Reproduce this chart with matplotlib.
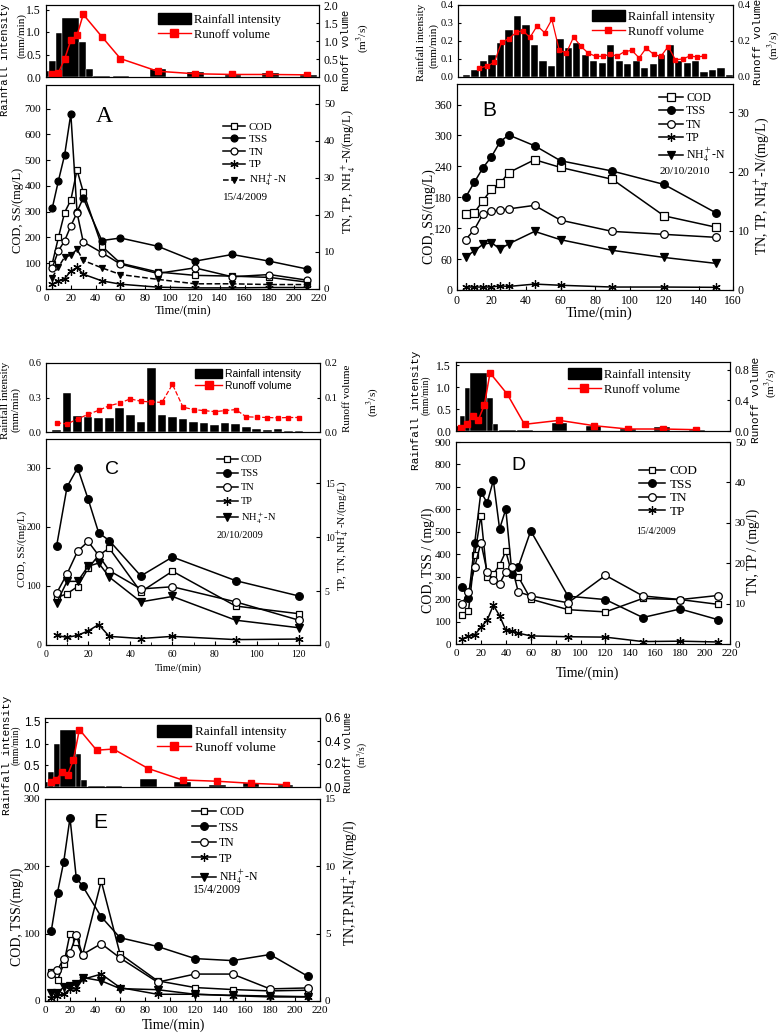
import numpy as np
import matplotlib.pyplot as plt
from matplotlib.lines import Line2D
from matplotlib.patches import Patch
from matplotlib.ticker import FormatStrFormatter, MultipleLocator

plt.rcParams['font.family'] = ['Liberation Serif', 'DejaVu Serif']
plt.rcParams['mathtext.fontset'] = 'stix'
plt.rcParams['font.size'] = 8
plt.rcParams['xtick.direction'] = 'in'
plt.rcParams['ytick.direction'] = 'in'
plt.rcParams['axes.linewidth'] = 0.8
plt.rcParams['xtick.major.size'] = 3
plt.rcParams['ytick.major.size'] = 3

# ---------------- data ----------------
# A : 15/4/2009
a_rain_l = [0, 2.7, 8, 12.9, 26.8, 32.2, 37.6, 53.7, 83.7, 113.8, 144, 174, 204.5]
a_rain_r = [2.7, 8, 12.9, 26.8, 32.2, 37.6, 51.5, 67, 97, 127, 157.5, 187.5, 218]
a_rain = [0.13, 0.35, 0.98, 1.32, 0.77, 0.18, 0.03, 0.03, 0.18, 0.12, 0.05, 0.1, 0.05]
a_run_t = [5, 10, 15, 20, 25, 30, 45, 60, 90, 120, 150, 180, 210]
a_run = [0.09, 0.12, 0.5, 1.02, 1.16, 1.74, 1.12, 0.51, 0.16, 0.09, 0.07, 0.07, 0.06]
a_t = [5, 10, 15, 20, 25, 30, 45, 60, 90, 120, 150, 180, 210]
a_cod = [98, 200, 297, 345, 462, 377, 166, 100, 66, 53, 50, 45, 27]
a_tss = [313, 420, 520, 680, 300, 353, 188, 198, 166, 108, 134, 108, 78]
a_tn = [5.7, 10.3, 13.0, 17.0, 20.6, 12.7, 9.8, 6.7, 4.2, 5.7, 3.3, 3.9, 2.4]
a_tp = [1.3, 2.2, 2.8, 4.8, 5.8, 4.0, 2.2, 1.3, 0.5, 0.3, 0.3, 0.4, 0.4]
a_nh4 = [3.1, 5.9, 8.6, 9.1, 10.7, 7.7, 5.7, 3.9, 2.6, 1.4, 1.4, 1.2, 1.2]

# B : 20/10/2010
b_rain_t = [5, 10, 15, 20, 25, 30, 35, 40, 45, 50, 55, 60, 65, 70, 75, 80,
            85, 90, 95, 100, 105, 110, 115, 120, 125, 130, 135, 140, 145, 150, 155, 160]
b_rain = [0.01, 0.04, 0.09, 0.12, 0.19, 0.26, 0.34, 0.29, 0.18, 0.09, 0.06, 0.21,
          0.16, 0.19, 0.12, 0.09, 0.08, 0.18, 0.09, 0.07, 0.09, 0.05, 0.07, 0.12,
          0.18, 0.09, 0.08, 0.09, 0.03, 0.04, 0.05, 0.01]
b_run_t = [12.1, 17.1, 21.4, 25.7, 30.0, 34.3, 38.2, 42.4, 46.7, 51.0, 55.3, 59.6,
           63.8, 68.1, 72.4, 76.7, 81.0, 85.3, 89.5, 93.8, 98.1, 102.4, 106.7, 110.9,
           115.2, 119.5, 123.8, 128.1, 132.4, 136.6, 140.9, 145.2]
b_run = [0.048, 0.061, 0.081, 0.194, 0.213, 0.248, 0.257, 0.22, 0.285, 0.246, 0.32,
         0.15, 0.133, 0.222, 0.17, 0.133, 0.115, 0.115, 0.126, 0.117, 0.141, 0.148,
         0.106, 0.161, 0.126, 0.115, 0.169, 0.096, 0.1, 0.117, 0.111, 0.117]
b_t = [5, 10, 15, 20, 25, 30, 45, 60, 90, 120, 150]
b_cod = [147, 150, 173, 196, 207, 228, 253, 238, 215, 144, 122]
b_tss = [180, 209, 237, 259, 288, 301, 280, 251, 231, 205, 150]
b_tn = [8.5, 10.2, 12.8, 13.3, 13.5, 13.7, 14.3, 11.8, 9.9, 9.4, 8.9]
b_tp = [0.5, 0.5, 0.5, 0.5, 0.7, 0.6, 1.0, 0.8, 0.5, 0.5, 0.45]
b_nh4 = [5.6, 6.6, 7.7, 8.0, 6.9, 7.8, 9.9, 8.5, 6.7, 5.5, 4.5]

# C : 20/10/2009
c_rain_t = [5, 10, 15, 20, 25, 30, 35, 40, 45, 50, 55, 60,
            65, 70, 75, 80, 85, 90, 95, 100, 105, 110, 115, 120]
c_rain = [0.02, 0.34, 0.14, 0.13, 0.12, 0.12, 0.21, 0.15, 0.09, 0.56, 0.15, 0.13,
          0.11, 0.09, 0.08, 0.06, 0.08, 0.07, 0.04, 0.03, 0.02, 0.03, 0.01, 0.01]
c_run_t = c_rain_t
c_run = [0.027, 0.023, 0.038, 0.051, 0.063, 0.076, 0.084, 0.096, 0.089, 0.087, 0.086, 0.138,
         0.072, 0.065, 0.062, 0.059, 0.062, 0.065, 0.044, 0.043, 0.042, 0.041, 0.042, 0.042]
c_t = [5, 10, 15, 20, 25, 30, 45, 60, 90, 120]
c_cod = [80, 87, 99, 130, 152, 164, 90, 125, 66, 53]
c_tss = [167, 268, 300, 247, 190, 177, 117, 149, 109, 83]
c_tn = [4.8, 6.6, 8.7, 9.6, 8.3, 6.9, 5.2, 5.4, 4.0, 2.3]
c_tp = [0.9, 0.7, 0.9, 1.3, 1.9, 0.8, 0.6, 0.8, 0.5, 0.55]
c_nh4 = [3.9, 5.9, 5.9, 7.3, 7.6, 6.3, 4.0, 4.5, 2.3, 1.6]

# D : 15/4/2009
d_rain_l = [0, 3.2, 7.2, 11.2, 24.6, 29.4, 34.8, 48.7, 76.8, 104, 131.7, 159.3, 187]
d_rain_r = [3.2, 7.2, 11.2, 24.6, 29.4, 34, 48.2, 61.6, 88.9, 116.4, 144.3, 171.8, 200]
d_rain = [0.12, 0.33, 0.98, 1.32, 0.76, 0.17, 0.03, 0.03, 0.18, 0.12, 0.05, 0.09, 0.03]
d_run_t = [4, 9, 13.4, 18, 22.8, 27.3, 41.2, 55, 83, 111, 138, 166, 193]
d_run = [0.043, 0.087, 0.195, 0.147, 0.342, 0.758, 0.48, 0.087, 0.139, 0.069, 0.026, 0.026, 0.017]
d_t = [5, 10, 15, 20, 25, 30, 35, 40, 45, 50, 60, 90, 120, 150, 180, 210]
d_cod = [131, 145, 396, 572, 297, 311, 352, 413, 310, 300, 200, 153, 143, 203, 198, 177]
d_tss = [252, 203, 449, 678, 629, 729, 513, 601, 311, 344, 504, 213, 198, 118, 156, 109]
d_tn = [10.0, 12.9, 19.0, 25.1, 17.9, 15.9, 14.9, 17.9, 19.0, 12.9, 11.9, 10.2, 17.0, 11.9, 11.0, 12.0]
d_tp = [1.3, 1.9, 2.3, 4.1, 5.9, 9.6, 7.0, 3.4, 3.1, 2.7, 2.0, 1.8, 1.7, 0.6, 0.7, 0.5]

# E : 15/4/2009
e_rain_l = [0, 2.7, 7.2, 12, 24.8, 28.8, 34.7, 48.8, 76, 103.2, 131.2, 158.7, 186.1]
e_rain_r = [2.7, 7.2, 12, 24.8, 28.8, 33.9, 48, 61.3, 89.3, 116.5, 144.5, 171.5, 198.7]
e_rain = [0.12, 0.35, 0.98, 1.32, 0.76, 0.17, 0.03, 0.03, 0.18, 0.12, 0.05, 0.1, 0.04]
e_run_t = [4.5, 8.8, 13.6, 18.1, 22.7, 27.5, 41.3, 54.7, 82.7, 110, 137.9, 165, 192.5]
e_run = [0.043, 0.061, 0.128, 0.104, 0.235, 0.5, 0.32, 0.33, 0.16, 0.061, 0.05, 0.032, 0.02]
e_t = [5, 10, 15, 20, 25, 30, 45, 60, 90, 120, 150, 180, 210]
e_cod = [43, 31, 55, 100, 88, 68, 178, 70, 30, 20, 17, 15, 16]
e_tss = [104, 161, 207, 272, 183, 171, 125, 94, 81, 63, 60, 69, 37]
e_tn = [2.0, 2.3, 3.15, 3.57, 4.9, 3.45, 4.26, 3.2, 1.4, 2.0, 2.0, 0.9, 0.97]
e_tp = [0.25, 0.4, 0.5, 0.9, 0.9, 1.6, 2.0, 1.0, 0.5, 0.5, 0.4, 0.3, 0.3]
e_nh4 = [0.6, 0.6, 1.04, 1.1, 1.24, 1.74, 1.5, 0.92, 0.84, 0.5, 0.42, 0.37, 0.32]

# ---------------- helpers ----------------
W, H = 781, 1033
fig = plt.figure(figsize=(W / 100, H / 100), dpi=100)


def box(l, t, r, b):
    return fig.add_axes([l / W, 1 - b / H, (r - l) / W, (b - t) / H])


def ftext(x, y, s, **kw):
    fig.text(x / W, 1 - y / H, s, **kw)


STY = {
    'COD': dict(marker='s', mfc='white', label='COD'),
    'TSS': dict(marker='o', mfc='black', label='TSS'),
    'TN': dict(marker='o', mfc='white', label='TN'),
    'TP': dict(marker=(6, 2, 0), mfc='black', label='TP'),
    'NH4': dict(marker='v', mfc='black', label='NH$_4^+$-N'),
}


def top_axes(l, t, r, b, xlim, ylim, yticks, ylim2, yticks2, fs=8, family=None):
    ax = box(l, t, r, b)
    ax.set_xlim(xlim)
    ax.set_ylim(ylim)
    ax.set_yticks(yticks)
    ax.yaxis.set_major_formatter(FormatStrFormatter('%.1f'))
    ax.tick_params(labelbottom=False, labelsize=fs, length=2.5)
    ax.set_xticks([])
    axr = ax.twinx()
    axr.set_ylim(ylim2)
    axr.set_yticks(yticks2)
    axr.yaxis.set_major_formatter(FormatStrFormatter('%.1f'))
    axr.tick_params(labelsize=fs, length=2.5)
    if family:
        for lab in ax.get_yticklabels() + axr.get_yticklabels():
            lab.set_family(family)
    return ax, axr


def top_legend(axr, x, y, fs=8.5, family=None, ms=6):
    hs = [Patch(facecolor='black', edgecolor='black'),
          Line2D([], [], color='red', marker='s', ms=ms, lw=1)]
    prop = {'size': fs}
    if family:
        prop['family'] = family
    axr.legend(hs, ['Rainfall intensity', 'Runoff volume'], loc='upper left',
               bbox_to_anchor=(x / W, 1 - y / H), bbox_transform=fig.transFigure,
               frameon=False, borderpad=0, borderaxespad=0, handlelength=2.6,
               handleheight=1.0, handletextpad=0.3, labelspacing=0.15, prop=prop)


def main_axes(l, t, r, b, xlim, xticks, ylim, yticks, ylim2, yticks2, fs=8):
    ax = box(l, t, r, b)
    ax.set_xlim(xlim)
    ax.set_xticks(xticks)
    ax.set_ylim(ylim)
    ax.set_yticks(yticks)
    ax.tick_params(labelsize=fs)
    axr = ax.twinx()
    axr.set_ylim(ylim2)
    axr.set_yticks(yticks2)
    axr.tick_params(labelsize=fs)
    return ax, axr


def series(ax, t, y, key, ms=5, ls='-', lw=1.1):
    s = STY[key]
    ln, = ax.plot(t, y, color='black', lw=lw, ls=ls, marker=s['marker'], ms=ms,
                  mfc=s['mfc'], mec='black', mew=0.9, label=s['label'], zorder=3)
    return ln


def main_legend(axr, handles, x, y, fs=8, hl=2.0, sp=0.2):
    axr.legend(handles, [h.get_label() for h in handles], loc='upper left',
               bbox_to_anchor=(x / W, 1 - y / H), bbox_transform=fig.transFigure,
               frameon=False, borderpad=0, borderaxespad=0, handlelength=hl,
               handletextpad=0.3, labelspacing=sp, fontsize=fs)


# ---------------- Panel A ----------------
ax, axr = top_axes(46, 5, 319, 77, (0, 220), (0, 1.6), [0, 0.5, 1.0, 1.5],
                   (0, 2.0), [0, 0.5, 1.0, 1.5, 2.0], fs=8.5)
ax.bar(a_rain_l, a_rain, width=np.subtract(a_rain_r, a_rain_l), align='edge',
       color='black', edgecolor='white', lw=0.3)
axr.plot(a_run_t, a_run, color='red', marker='s', ms=5, lw=1.1)
top_legend(axr, 158, 13, fs=9)
ftext(5, 60, 'Rainfall intensity', rotation=90, ha='center', va='center',
      family='Liberation Mono', size=7.6)
ftext(22, 36, '(mm/min)', rotation=90, ha='center', va='center', size=8)
ftext(346, 50, 'Runoff volume', rotation=90, ha='center', va='center',
      family='Liberation Mono', size=7.6)
ftext(363, 38, '(m$^3$/s)', rotation=90, ha='center', va='center', size=8)

ax, axr = main_axes(46, 85, 319, 289, (0, 220), range(0, 221, 20), (0, 792),
                    range(0, 701, 100), (0, 55), range(0, 51, 10))
hs = [series(ax, a_t, a_cod, 'COD'), series(ax, a_t, a_tss, 'TSS'),
      series(axr, a_t, a_tn, 'TN'), series(axr, a_t, a_tp, 'TP', ms=6),
      series(axr, a_t, a_nh4, 'NH4', ls='--')]
main_legend(axr, hs, 223, 122, fs=8, sp=0.25)
ftext(223, 198, '15/4/2009', size=8, va='center')
ftext(104, 117, 'A', size=17, ha='center', va='center')
ftext(18, 210, 'COD, SS/(mg/L)', rotation=90, ha='center', va='center', size=9)
ftext(349, 172, 'TN, TP, NH$_4^+$-N/(mg/L)', rotation=90, ha='center', va='center', size=9)
ftext(183, 311, 'Time/(min)', ha='center', va='center', size=9)

# ---------------- Panel B ----------------
ax, axr = top_axes(458, 5, 733, 77, (0, 162), (0, 0.4), [0, 0.1, 0.2, 0.3, 0.4],
                   (0, 0.4), [0, 0.2, 0.4], fs=7.5)
ax.bar(b_rain_t, b_rain, width=4.3, color='black', edgecolor='white', lw=0.3)
axr.plot(b_run_t, b_run, color='red', marker='s', ms=3.5, lw=0.9)
top_legend(axr, 592, 10, fs=9, ms=5)
ftext(421, 42, 'Rainfall intensity', rotation=90, ha='center', va='center', size=8)
ftext(434, 45, '(mm/min)', rotation=90, ha='center', va='center', size=8)
ftext(758, 42, 'Runoff volume', rotation=90, ha='center', va='center',
      family='Liberation Mono', size=8)
ftext(774, 45, '(m$^3$/s)', rotation=90, ha='center', va='center', size=8)

ax, axr = main_axes(457, 84, 733, 290, (0, 160), range(0, 161, 20), (0, 400),
                    range(0, 361, 60), (0, 34.8), [0, 10, 20, 30], fs=8.5)
hs = [series(ax, b_t, b_cod, 'COD', ms=5.5), series(ax, b_t, b_tss, 'TSS', ms=5.5),
      series(axr, b_t, b_tn, 'TN', ms=5.5), series(axr, b_t, b_tp, 'TP', ms=6),
      series(axr, b_t, b_nh4, 'NH4', ms=5.5)]
main_legend(axr, hs, 659, 92, fs=8.5, sp=0.12)
ftext(660, 172, '20/10/2010', size=8, va='center')
ftext(489, 110, 'B', size=15, ha='center', va='center', family='Liberation Sans')
ftext(429, 217, 'COD, SS/(mg/L)', rotation=90, ha='center', va='center', size=10)
ftext(762, 186, 'TN, TP, NH$_4^+$-N/(mg/L)', rotation=90, ha='center', va='center', size=10)
ftext(599, 313, 'Time/(min)', ha='center', va='center', size=10.5)

# ---------------- Panel C ----------------
ax, axr = top_axes(46, 363, 320, 432, (0, 130), (0, 0.6), [0, 0.3, 0.6],
                   (0, 0.2), [0, 0.1, 0.2], fs=7.5)
ax.bar(c_rain_t, c_rain, width=4.1, color='black', edgecolor='white', lw=0.3)
axr.plot(c_run_t, c_run, color='red', marker='s', ms=3.5, lw=0.9, ls='--')
top_legend(axr, 195, 369, fs=7.5, family='Liberation Sans', ms=6)
ftext(5, 400, 'Rainfall intensity', rotation=90, ha='center', va='center', size=8)
ftext(16, 410, '(mm/min)', rotation=90, ha='center', va='center', size=8)
ftext(348, 398, 'Runoff volume', rotation=90, ha='center', va='center', size=8)
ftext(373, 402, '(m$^3$/s)', rotation=90, ha='center', va='center', size=8)

ax, axr = main_axes(46, 439, 320, 645, (0, 130), range(0, 121, 20), (0, 349),
                    [0, 100, 200, 300], (0, 19.1), [0, 5, 10, 15], fs=7)
ax.xaxis.set_minor_locator(MultipleLocator(10))
ax.tick_params(which='minor', direction='in', length=2)
hs = [series(ax, c_t, c_cod, 'COD', ms=5), series(ax, c_t, c_tss, 'TSS', ms=5.5),
      series(axr, c_t, c_tn, 'TN', ms=5.5), series(axr, c_t, c_tp, 'TP', ms=6),
      series(axr, c_t, c_nh4, 'NH4', ms=5.5)]
main_legend(axr, hs, 217, 455, fs=7.5, sp=0.45)
ftext(217, 535, '20/10/2009', size=7.5, va='center')
ftext(112, 470, 'C', size=14, ha='center', va='center', family='Liberation Sans')
ftext(22, 549, 'COD, SS/(mg/L)', rotation=90, ha='center', va='center', size=8)
ftext(343, 535, 'TP, TN, NH$_4^+$-N/(mg/L)', rotation=90, ha='center', va='center', size=8)
ftext(178, 668, 'Time/(min)', ha='center', va='center', size=7.5)

# ---------------- Panel D ----------------
ax, axr = top_axes(456, 362, 730, 431, (0, 220), (0, 1.57), [0, 0.5, 1.0, 1.5],
                   (0, 0.9), [0, 0.4, 0.8], fs=8.5)
ax.bar(d_rain_l, d_rain, width=np.subtract(d_rain_r, d_rain_l), align='edge',
       color='black', edgecolor='white', lw=0.3)
axr.plot(d_run_t, d_run, color='red', marker='s', ms=5, lw=1.1)
top_legend(axr, 568, 368, fs=9)
ftext(416, 410, 'Rainfall intensity', rotation=90, ha='center', va='center',
      family='Liberation Mono', size=8)
ftext(426, 395, '(mm/min)', rotation=90, ha='center', va='center', size=7)
ftext(756, 400, 'Runoff volume', rotation=90, ha='center', va='center',
      family='Liberation Mono', size=8)
ftext(771, 383, '(m$^3$/s)', rotation=90, ha='center', va='center', size=8)

ax, axr = main_axes(456, 442, 730, 644, (0, 220), range(0, 221, 20), (0, 900),
                    range(0, 901, 100), (0, 50), range(0, 51, 10), fs=8)
hs = [series(ax, d_t, d_cod, 'COD', ms=5), series(ax, d_t, d_tss, 'TSS', ms=5.5),
      series(axr, d_t, d_tn, 'TN', ms=5.5), series(axr, d_t, d_tp, 'TP', ms=6)]
main_legend(axr, hs, 639, 465, fs=9.5, sp=0.1)
ftext(636, 531, '15/4/2009', size=7, va='center')
ftext(518, 465, 'D', size=14, ha='center', va='center', family='Liberation Sans')
ftext(428, 560, 'COD, TSS / (mg/l)', rotation=90, ha='center', va='center', size=10)
ftext(753, 552, 'TN, TP / (mg/l)', rotation=90, ha='center', va='center', size=10)
ftext(587, 673, 'Time/(min)', ha='center', va='center', size=10)

# ---------------- Panel E ----------------
ax, axr = top_axes(45, 718, 320, 787, (0, 220), (0, 1.59), [0, 0.5, 1.0, 1.5],
                   (0, 0.6), [0, 0.2, 0.4, 0.6], fs=8.5, family='Liberation Sans')
ax.bar(e_rain_l, e_rain, width=np.subtract(e_rain_r, e_rain_l), align='edge',
       color='black', edgecolor='white', lw=0.3)
axr.plot(e_run_t, e_run, color='red', marker='s', ms=5, lw=1.1)
top_legend(axr, 157, 725, fs=9.5)
ftext(7, 755, 'Rainfall intensity', rotation=90, ha='center', va='center',
      family='Liberation Mono', size=8)
ftext(16, 745, '(mm/min)', rotation=90, ha='center', va='center', size=7)
ftext(348, 752, 'Runoff volume', rotation=90, ha='center', va='center',
      family='Liberation Mono', size=7.5)
ftext(363, 755, '(m$^3$/s)', rotation=90, ha='center', va='center', size=7)

ax, axr = main_axes(45, 799, 320, 1001, (0, 220), range(0, 221, 20), (0, 300),
                    [0, 100, 200, 300], (0, 15), [0, 5, 10, 15], fs=8)
hs = [series(ax, e_t, e_cod, 'COD', ms=5), series(ax, e_t, e_tss, 'TSS', ms=5.5),
      series(axr, e_t, e_tn, 'TN', ms=5.5), series(axr, e_t, e_tp, 'TP', ms=6),
      series(axr, e_t, e_nh4, 'NH4', ms=5.5)]
main_legend(axr, hs, 192, 806, fs=8.5, sp=0.3)
ftext(193, 890, '15/4/2009', size=8.5, va='center')
ftext(100, 823, 'E', size=15, ha='center', va='center', family='Liberation Sans')
ftext(17, 917, 'COD, TSS/(mg/l)', rotation=90, ha='center', va='center', size=10)
ftext(350, 883, 'TN,TP,NH$_4^+$-N/(mg/l)', rotation=90, ha='center', va='center', size=10)
ftext(173, 1025, 'Time/(min)', ha='center', va='center', size=10)

fig.savefig('out.png', dpi=100)
